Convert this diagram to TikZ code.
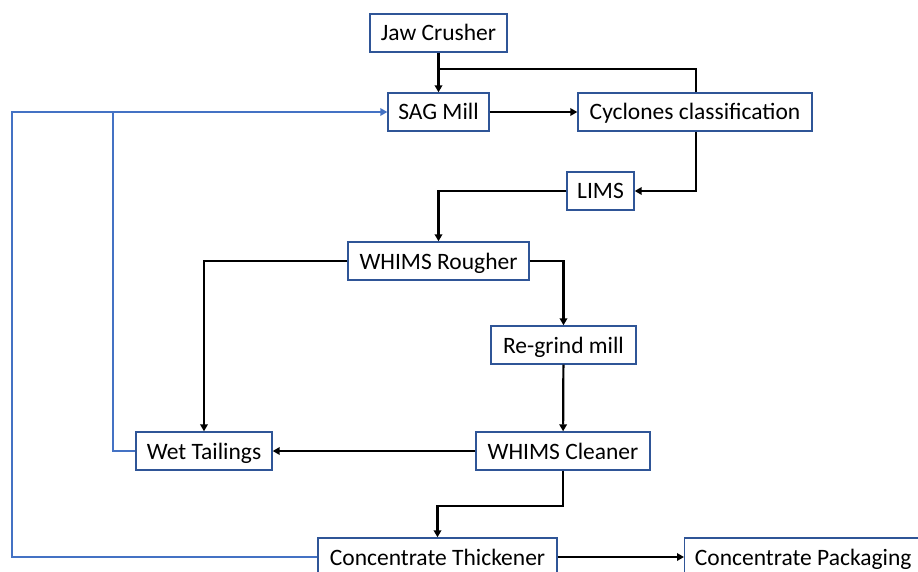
\documentclass[tikz,border=0pt]{standalone}
\usepackage{fontspec}
\setmainfont{Carlito}
\usetikzlibrary{arrows.meta}
\definecolor{boxblue}{HTML}{2F5597}
\definecolor{loopblue}{HTML}{4472C4}

\begin{document}
\begin{tikzpicture}[x=1pt,y=-1pt,
  box/.style={draw=boxblue, line width=1.4pt, fill=white, minimum height=38pt,
              inner sep=0pt, text height=19pt, text depth=3pt,
              font=\fontsize{23.5}{26}\selectfont},
  flow/.style={line width=2.2pt, -{Triangle[length=7pt,width=7.5pt]}},
  plain/.style={line width=2.2pt},
  recycle/.style={draw=loopblue, line width=2.2pt, -{Triangle[length=7pt,width=7.5pt]}},
  recycleline/.style={draw=loopblue, line width=2.2pt}]
  \useasboundingbox (0,0) rectangle (918,572);
  \clip (0,0) rectangle (918,572);
  \fill[white] (0,0) rectangle (918,572);

  % process units
  \node[box, minimum width=137pt] (jaw)     at (438.5,33)  {Jaw Crusher};
  \node[box, minimum width=101pt] (sag)     at (438.5,112) {SAG Mill};
  \node[box, minimum width=234pt] (cyc)     at (695,112)   {Cyclones classification};
  \node[box, minimum width=67pt]  (lims)    at (600.5,191) {LIMS};
  \node[box, minimum width=181pt] (rough)   at (438.5,261) {WHIMS Rougher};
  \node[box, minimum width=145pt] (regrind) at (563.5,345) {Re-grind mill};
  \node[box, minimum width=136pt] (wet)     at (204,451)   {Wet Tailings};
  \node[box, minimum width=174pt] (clean)   at (563,451)   {WHIMS Cleaner};
  \node[box, minimum width=239pt] (thick)   at (437.5,557) {Concentrate Thickener};
  \node[box, minimum width=250pt, anchor=west, align=left] (pack) at (684,557)
       {\hspace*{5pt}Concentrate Packaging\hspace*{18pt}};

  % junction points
  \coordinate (join) at (438.5,69);
  \coordinate (tap)  at (113,112);
  \coordinate (loop) at (12,112);

  % main flow
  \draw[flow] (jaw) -- (sag);
  \draw[plain] ([xshift=1pt]cyc.north) |- (join);
  \draw[flow] (sag) -- (cyc);
  \draw[flow] ([xshift=1pt]cyc.south) |- (lims.east);
  \draw[flow] (lims.west) -| (rough.north);
  \draw[flow] (rough.west) -| (wet.north);
  \draw[flow] (rough.east) -| (regrind.north);
  \draw[flow] (regrind) -- (clean);
  \draw[flow] (clean) -- (wet);
  \draw[flow] (clean.south) -- ++(0,35) -| (thick.north);
  \draw[flow] (thick) -- (pack);

  % water recycle
  \draw[recycle] (thick.west) -| (loop) -- (sag.west);
  \draw[recycleline] (wet.west) -| (tap);
\end{tikzpicture}
\end{document}
